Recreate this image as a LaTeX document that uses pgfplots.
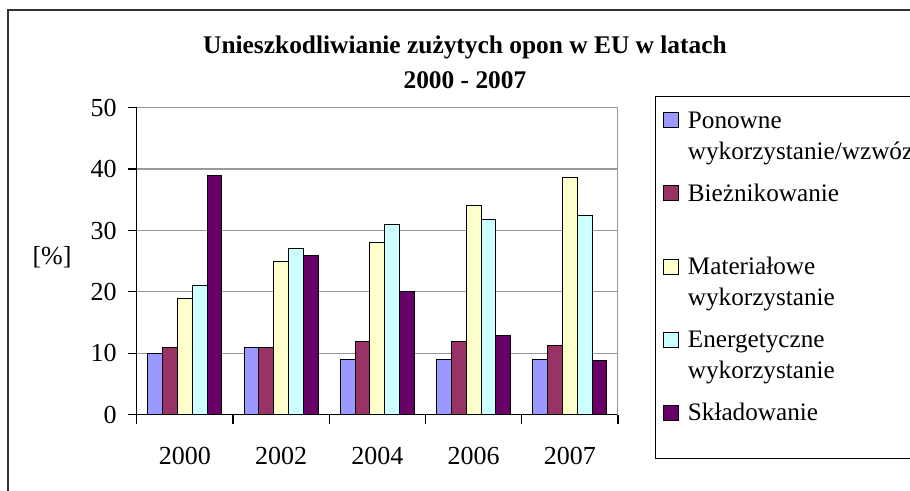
\documentclass[border=0pt]{standalone}
\usepackage{pgfplots}
\usepackage{pgfplotstable}
\pgfplotsset{compat=1.18}
\usepackage{fontspec}
\setmainfont{Liberation Serif}
\definecolor{c1}{RGB}{153,153,255}
\definecolor{c2}{RGB}{153,51,102}
\definecolor{c3}{RGB}{255,255,204}
\definecolor{c4}{RGB}{204,255,255}
\definecolor{c5}{RGB}{102,0,102}
\pgfplotstableread{
x s1 s2 s3 s4 s5
0 10 11 19 21 39
1 11 11 25 27 26
2 9 12 28 31 20
3 9 12 34 31.8 12.9
4 9 11.3 38.7 32.5 8.85
}\data
\pgfplotsset{sq/.style={draw=black, line width=0.5pt,
  legend image code/.code={\path[draw=none,fill=none] (0pt,0pt) -- (10pt,0pt);\draw[##1,draw=black,line width=0.5pt] (0pt,-4.5pt) rectangle (7.5pt,3pt);}}}
\begin{document}
\begin{tikzpicture}
\useasboundingbox (0,0) rectangle (455pt,245.5pt);
\clip (0,0) rectangle (455pt,245.5pt);
\fill[white] (0,0) rectangle (455pt,245.5pt);
\draw[line width=0.6pt, black!80] (4pt,-10pt) rectangle (470pt,240.5pt);
\draw[line width=0.5pt, black] (327.5pt,197pt) rectangle (470pt,16pt);
\begin{axis}[
  at={(68.35pt,38.15pt)}, anchor=south west,
  scale only axis, width=240.65pt, height=153.5pt,
  ybar=0pt, bar width=7.4pt,
  xmin=-0.5, xmax=4.5, ymin=0, ymax=50,
  xtick={-0.5,0.5,...,4.5},
  x tick label as interval,
  xticklabels={2000,2002,2004,2006,2007},
  ytick={0,10,...,50},
  axis x line*=bottom, axis y line*=left,
  axis line style={black, line width=0.6pt},
  tick align=outside, major tick length=4.5pt,
  tick style={black, line width=0.6pt},
  ymajorgrids, grid style={gray!80, line width=0.6pt},
  /pgf/number format/assume math mode=true,
  tick label style={font=\fontsize{13}{15}\selectfont},
  xticklabel style={yshift=-8pt},
  yticklabel style={xshift=-2pt},
  ylabel={[\%]},
  ylabel style={rotate=-90, at={(axis description cs:-0.176,0.514)}, anchor=center, font=\fontsize{13}{15}\selectfont},
  title={\begin{tabular}[b]{@{}c@{}}Unieszkodliwianie zużytych opon w EU w latach\\2000 - 2007\end{tabular}},
  title style={font=\bfseries\fontsize{12.7}{17.5}\selectfont, at={(axis description cs:0.682,1.025)}, anchor=base, inner sep=0pt},
  legend style={at={(axis description cs:1.0769,1.0447)}, anchor=north west, draw=none, fill=none,
    font=\fontsize{12.6}{15.5}\selectfont, row sep=20.25pt, inner xsep=4pt, inner ysep=4pt},
  legend cell align=left,
]
\addplot[sq, fill=c1] table[x=x,y=s1]{\data};
\addplot[sq, fill=c2] table[x=x,y=s2]{\data};
\addplot[sq, fill=c3] table[x=x,y=s3]{\data};
\addplot[sq, fill=c4] table[x=x,y=s4]{\data};
\addplot[sq, fill=c5] table[x=x,y=s5]{\data};
\draw[gray!80, line width=0.6pt] (rel axis cs:1,0) -- (rel axis cs:1,1);
\legend{{\begin{tabular}[t]{@{}l@{}}Ponowne\\wykorzystanie/wzwóz\end{tabular}},
  {\begin{tabular}[t]{@{}l@{}}Bieżnikowanie\\ \end{tabular}},
  {\begin{tabular}[t]{@{}l@{}}Materiałowe\\wykorzystanie\end{tabular}},
  {\begin{tabular}[t]{@{}l@{}}Energetyczne\\wykorzystanie\end{tabular}},
  {\begin{tabular}[t]{@{}l@{}}Składowanie\\ \end{tabular}}}
\end{axis}
\end{tikzpicture}
\end{document}
